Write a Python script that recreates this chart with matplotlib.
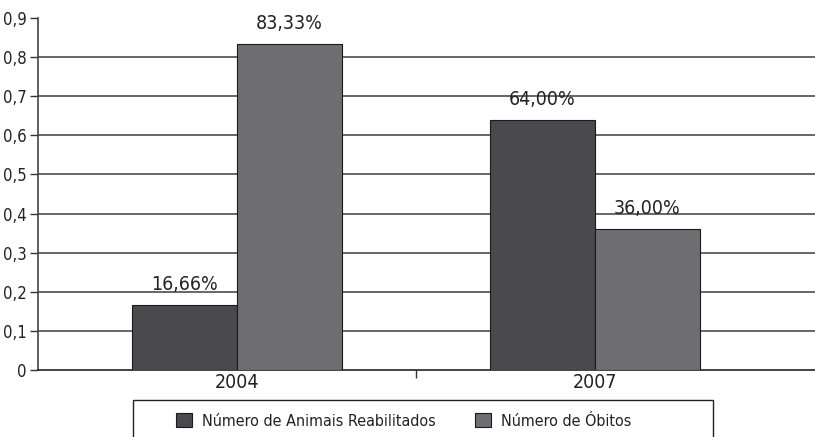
import matplotlib
matplotlib.use("Agg")
import matplotlib.pyplot as plt
from matplotlib.patches import Rectangle
import numpy as np

plt.rcParams['font.family'] = ['DejaVu Sans']
plt.rcParams['font.stretch'] = 'condensed'

# data
anos = ['2004', '2007']
reabilitados = [0.1666, 0.64]
obitos = [0.8333, 0.36]
rotulos_reab = ['16,66%', '64,00%']
rotulos_obit = ['83,33%', '36,00%']
yticks = [0, 0.1, 0.2, 0.3, 0.4, 0.5, 0.6, 0.7, 0.8, 0.9]
ytick_labels = ['0', '0,1', '0,2', '0,3', '0,4', '0,5', '0,6', '0,7', '0,8', '0,9']

cor_reab = '#4a4a4c'
cor_obit = '#6e6e70'
cor_texto = '#222222'

fig = plt.figure(figsize=(8.15, 4.37), dpi=100)
ax = fig.add_axes([0.0466, 0.1533, 0.9534, 0.8055])

x = np.arange(len(anos))
w = 0.294
b1 = ax.bar(x - w / 2, reabilitados, w, color=cor_reab, edgecolor='#1a1a1a',
            linewidth=0.8, label='Número de Animais Reabilitados', zorder=3)
b2 = ax.bar(x + w / 2, obitos, w, color=cor_obit, edgecolor='#1a1a1a',
            linewidth=0.8, label='Número de Óbitos', zorder=3)

for barras, rotulos in [(b1, rotulos_reab), (b2, rotulos_obit)]:
    for rect, txt in zip(barras, rotulos):
        ax.annotate(txt, (rect.get_x() + rect.get_width() / 2, rect.get_height()),
                    xytext=(0, 8), textcoords='offset points', ha='center',
                    va='bottom', fontsize=14, color=cor_texto)

ax.set_ylim(0, 0.9)
ax.set_xlim(-0.556, 1.615)
ax.set_yticks(yticks)
ax.set_yticklabels(ytick_labels, fontsize=12, color=cor_texto)
ax.set_xticks(x)
ax.set_xticklabels(anos, fontsize=14, color=cor_texto)
ax.tick_params(axis='x', length=0, pad=2)
ax.tick_params(axis='y', length=6, width=1, color='#333333', pad=2)
ax.set_xticks([0.5], minor=True)
ax.tick_params(axis='x', which='minor', length=6, width=1, color='#333333')

for y in yticks[1:-1]:
    ax.axhline(y, color='#4d4d4d', linewidth=1.2, zorder=1)

for s in ['top', 'right']:
    ax.spines[s].set_visible(False)
ax.spines['left'].set_color('#444444')
ax.spines['left'].set_linewidth(1.2)
ax.spines['bottom'].set_color('#222222')
ax.spines['bottom'].set_linewidth(1.2)

# caixa da legenda, cortada na margem inferior
fig.patches.append(Rectangle((0.163, -0.06), 0.712, 0.1447,
                             transform=fig.transFigure, fill=False,
                             edgecolor='#222222', linewidth=1.0))
leg = fig.legend(handles=[b1, b2], loc='center left',
                 bbox_to_anchor=(0.216, 0.037), ncol=2, fontsize=11.5,
                 frameon=False, handlelength=1.0, handleheight=1.0,
                 handletextpad=0.6, columnspacing=2.5, borderaxespad=0,
                 borderpad=0)
for t in leg.get_texts():
    t.set_color(cor_texto)

fig.savefig('out.png', dpi=100)
